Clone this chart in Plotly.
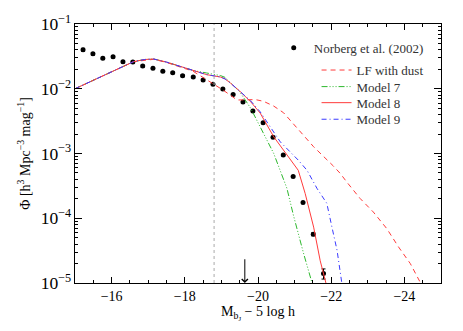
import plotly.graph_objects as go

# ---------------- data ----------------
norberg_mag = [-15.22, -15.49, -15.76, -16.04, -16.31, -16.58, -16.85, -17.13, -17.40, -17.67,
               -17.94, -18.23, -18.50, -18.77, -19.04, -19.32, -19.59, -19.86, -20.14, -20.41,
               -20.69, -20.96, -21.23, -21.51, -21.79]
norberg_phi = [0.0401, 0.0347, 0.0295, 0.0313, 0.0262, 0.0259, 0.0224, 0.0207, 0.0186, 0.0177,
               0.0159, 0.0152, 0.0136, 0.0117, 0.00989, 0.00818, 0.00622, 0.00452, 0.00298, 0.00179,
               0.000944, 0.000443, 0.000175, 5.67e-5, 1.40e-5]
norberg_err = [0.002, 0.0015, 0.0012, 0.0012, 0.001, 0.0009, 0.0008, 0.0007, 0.0006, 0.0005,
               0.0005, 0.0004, 0.0004, 0.0003, 0.0003, 0.0002, 0.00015, 0.0001, 0.00007, 0.00004,
               0.00002, 1e-5, 5e-6, 3e-6, 2.5e-6]

dust_mag = [-15.0, -15.7, -16.6, -17.15, -17.5, -18.0, -18.2, -18.47, -18.8, -19.05, -19.43,
            -19.7, -19.93, -20.15, -20.43, -20.70, -21.07, -21.52, -22.06, -22.25, -22.43, -22.79,
            -23.15, -23.52, -23.84, -24.16, -24.43, -24.5]
dust_phi = [0.0100, 0.0153, 0.0262, 0.0285, 0.0255, 0.0205, 0.0190, 0.0153, 0.0117, 0.0095, 0.0067,
            0.0068, 0.0068, 0.0064, 0.0054, 0.00425, 0.00244, 0.00127, 0.00064, 0.00049, 0.00036, 0.000202,
            0.000125, 6.9e-5, 3.6e-5, 2.0e-5, 1.03e-5, 9e-6]

m7_mag = [-15.0, -15.7, -16.3, -16.6, -16.9, -17.15, -17.5, -18.0, -18.25, -18.6, -18.97, -19.1,
          -19.25, -19.5, -19.8, -20.06, -20.43, -20.79, -20.97, -21.25, -21.47, -21.5]
m7_phi = [0.0100, 0.0153, 0.0218, 0.0262, 0.0283, 0.0288, 0.0258, 0.0210, 0.0190, 0.0175, 0.0160, 0.0150,
          0.0125, 0.0090, 0.0050, 0.00258, 0.0010, 0.00029, 0.00011, 2.8e-5, 1.0e-5, 9e-6]

m8_mag = [-15.0, -15.7, -16.3, -16.6, -16.9, -17.15, -17.5, -18.0, -18.25, -18.6, -18.97, -19.1,
          -19.25, -19.5, -19.8, -20.06, -20.43, -20.88, -21.1, -21.29, -21.52, -21.70, -21.84, -21.9]
m8_phi = [0.0100, 0.0153, 0.0218, 0.0262, 0.0283, 0.0288, 0.0258, 0.0208, 0.0188, 0.0165, 0.0152, 0.0142,
          0.0122, 0.0092, 0.0063, 0.0042, 0.00181, 0.00079, 0.00055, 0.00024, 7.3e-5, 2.2e-5, 1.03e-5, 8e-6]

m9_mag = [-15.0, -15.7, -16.3, -16.6, -16.9, -17.15, -17.5, -18.0, -18.25, -18.6, -18.97, -19.1,
          -19.25, -19.5, -19.8, -20.06, -20.61, -21.1, -21.34, -21.61, -21.88, -22.02, -22.16, -22.29, -22.32]
m9_phi = [0.0100, 0.0153, 0.0218, 0.0262, 0.0283, 0.0288, 0.0258, 0.0208, 0.0188, 0.0165, 0.0152, 0.0142,
          0.0122, 0.0093, 0.0065, 0.0044, 0.00151, 0.00079, 0.00055, 0.00029, 0.00017, 7.3e-5, 3.2e-5, 1.0e-5, 8e-6]

vline_mag = -18.8
arrow_mag = -19.64

x_ticks = [-16, -18, -20, -22, -24]
x_ticklabels = ["\u221216", "\u221218", "\u221220", "\u221222", "\u221224"]

RED = "#ff3b3b"
GREEN = "#2db82d"
BLUE = "#3a3aff"
FONT = "Liberation Serif"

fig = go.Figure()

fig.add_trace(go.Scatter(
    x=norberg_mag, y=norberg_phi, mode="markers", name="Norberg et al. (2002)",
    marker=dict(color="black", size=5),
    error_y=dict(type="data", array=norberg_err, color="black", thickness=1, width=2),
    legend="legend", showlegend=True))

fig.add_trace(go.Scatter(x=dust_mag, y=dust_phi, mode="lines", name="LF with dust",
                         line=dict(color=RED, width=1, dash="5px,4px"), legend="legend2"))
fig.add_trace(go.Scatter(x=m7_mag, y=m7_phi, mode="lines", name="Model 7",
                         line=dict(color=GREEN, width=1, dash="6px,2px,1px,2px,1px,2px,1px,2px"),
                         legend="legend3"))
fig.add_trace(go.Scatter(x=m8_mag, y=m8_phi, mode="lines", name="Model 8",
                         line=dict(color=RED, width=1), legend="legend4"))
fig.add_trace(go.Scatter(x=m9_mag, y=m9_phi, mode="lines", name="Model 9",
                         line=dict(color=BLUE, width=1, dash="5px,3px,1px,3px"), legend="legend5"))

fig.add_shape(type="line", xref="x", yref="paper", x0=vline_mag, x1=vline_mag, y0=0, y1=1,
              line=dict(color="#aaaaaa", width=1, dash="dot"))

fig.add_annotation(x=arrow_mag, y=-5, ax=arrow_mag, ay=-4.61, xref="x", yref="y",
                   axref="x", ayref="y", showarrow=True, arrowhead=4, arrowsize=1.2,
                   arrowwidth=1, arrowcolor="black", text="")

axis_common = dict(showline=True, linecolor="black", linewidth=1, mirror="allticks",
                   ticks="inside", tickcolor="black", showgrid=False, zeroline=False,
                   automargin=False,
                   tickfont=dict(family=FONT, size=14, color="black"))

fig.update_xaxes(range=[-15, -25], tickvals=x_ticks, ticktext=x_ticklabels, ticklen=6,
                 minor=dict(dtick=0.5, ticklen=3, ticks="inside", tickcolor="black"),
                 title=dict(text="M<sub>b<sub>J</sub></sub> \u2212 5 log h",
                            font=dict(family=FONT, size=14, color="black"), standoff=3),
                 **axis_common)
fig.update_yaxes(type="log", range=[-5, -1], dtick=1, exponentformat="power", ticklen=7,
                 minor=dict(dtick="D1", ticklen=3, ticks="inside", tickcolor="black"),
                 title=dict(text="\u03a6 [h<sup>3</sup> Mpc<sup>\u22123</sup> mag<sup>\u22121</sup>]",
                            font=dict(family=FONT, size=14, color="black"), standoff=6),
                 **axis_common)

leg_font = dict(family=FONT, size=13, color="#333333")
leg_common = dict(xanchor="left", yanchor="top", bgcolor="rgba(0,0,0,0)", font=leg_font, itemwidth=30)

fig.update_layout(
    width=463, height=331,
    margin=dict(l=75, r=22, t=24, b=48),
    paper_bgcolor="white", plot_bgcolor="white",
    showlegend=True,
    font=dict(family=FONT, size=13, color="black"),
    legend=dict(x=0.543, y=0.966, **leg_common),
    legend2=dict(x=0.66, y=0.880, **leg_common),
    legend3=dict(x=0.66, y=0.816, **leg_common),
    legend4=dict(x=0.66, y=0.754, **leg_common),
    legend5=dict(x=0.66, y=0.690, **leg_common),
)

fig.write_html("out.html", config={"displayModeBar": False})

with open("out.html", "r", encoding="utf-8") as f:
    html = f.read()
html = html.replace("<body>", '<body style="margin:0;padding:0;">', 1)
with open("out.html", "w", encoding="utf-8") as f:
    f.write(html)
